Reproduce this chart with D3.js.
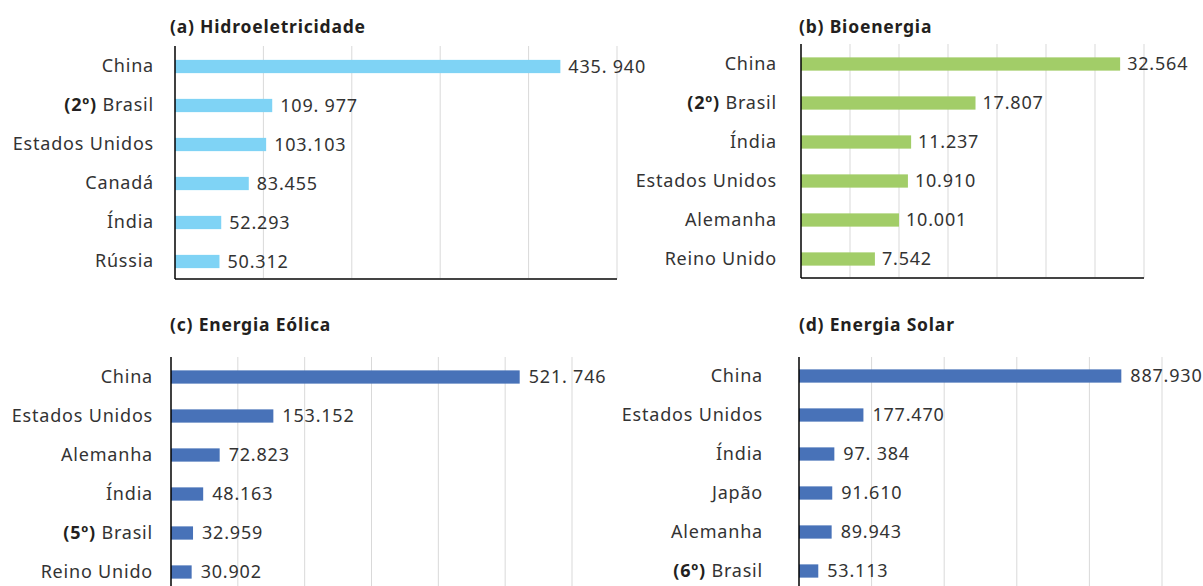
<!DOCTYPE html>
<html>
<head>
<meta charset="utf-8">
<script src="https://cdn.jsdelivr.net/npm/d3@7"></script>
<style>
  body { margin: 0; background: #fff; }
  svg text { font-family: "Noto Sans", sans-serif; }
</style>
</head>
<body>
<div id="chart"></div>
<script>
// (a) Hidroeletricidade
var hidroCountries = ["China", "Brasil", "Estados Unidos", "Canadá", "Índia", "Rússia"];
var hidroRank = ["", "(2º) ", "", "", "", ""];
var hidroValues = [435940, 109977, 103103, 83455, 52293, 50312];
var hidroLabels = ["435. 940", "109. 977", "103.103", "83.455", "52.293", "50.312"];

// (b) Bioenergia
var bioCountries = ["China", "Brasil", "Índia", "Estados Unidos", "Alemanha", "Reino Unido"];
var bioRank = ["", "(2º) ", "", "", "", ""];
var bioValues = [32564, 17807, 11237, 10910, 10001, 7542];
var bioLabels = ["32.564", "17.807", "11.237", "10.910", "10.001", "7.542"];

// (c) Energia Eólica
var eolicaCountries = ["China", "Estados Unidos", "Alemanha", "Índia", "Brasil", "Reino Unido"];
var eolicaRank = ["", "", "", "", "(5º)  ", ""];
var eolicaValues = [521746, 153152, 72823, 48163, 32959, 30902];
var eolicaLabels = ["521. 746", "153.152", "72.823", "48.163", "32.959", "30.902"];

// (d) Energia Solar
var solarCountries = ["China", "Estados Unidos", "Índia", "Japão", "Alemanha", "Brasil"];
var solarRank = ["", "", "", "", "", "(6º) "];
var solarValues = [887930, 177470, 97384, 91610, 89943, 53113];
var solarLabels = ["887.930", "177.470", "97. 384", "91.610", "89.943", "53.113"];

var width = 1203, height = 586;

var svg = d3.select("#chart")
    .append("svg")
    .attr("width", width)
    .attr("height", height);

function drawPanel(cfg) {
    var g = svg.append("g");

    var x = d3.scaleLinear()
        .domain([0, cfg.max])
        .range([cfg.x0, cfg.x1]);

    var y = d3.scaleBand()
        .domain(cfg.countries)
        .range([cfg.bandTop, cfg.bandTop + 234])
        .paddingInner(0.66)
        .paddingOuter(0.33);

    // title
    g.append("text")
        .attr("x", cfg.titleX)
        .attr("y", cfg.titleY)
        .attr("font-size", 17.5)
        .attr("font-weight", "bold")
        .attr("letter-spacing", 0.8)
        .attr("fill", "#231f20")
        .text(cfg.title);

    // gridlines
    g.selectAll(".grid")
        .data(x.ticks(cfg.nTicks).filter(function(d) { return d > 0; }))
      .enter().append("line")
        .attr("class", "grid")
        .attr("x1", function(d) { return x(d); })
        .attr("x2", function(d) { return x(d); })
        .attr("y1", cfg.top)
        .attr("y2", cfg.bottom)
        .attr("stroke", "#d9d9d9")
        .attr("stroke-width", 1);

    // bars
    g.selectAll(".bar")
        .data(cfg.values)
      .enter().append("rect")
        .attr("class", "bar")
        .attr("x", x(0))
        .attr("y", function(d, i) { return y(cfg.countries[i]); })
        .attr("width", function(d) { return x(d) - x(0); })
        .attr("height", y.bandwidth())
        .attr("fill", cfg.color);

    // value labels
    g.selectAll(".val")
        .data(cfg.values)
      .enter().append("text")
        .attr("class", "val")
        .attr("x", function(d) { return x(d) + cfg.labelGap; })
        .attr("y", function(d, i) { return y(cfg.countries[i]) + y.bandwidth() / 2; })
        .attr("dy", "0.36em")
        .attr("font-size", 18)
        .attr("letter-spacing", 0.8)
        .attr("fill", "#333")
        .text(function(d, i) { return cfg.labels[i]; });

    // bottom axis line
    if (cfg.bottomAxis) {
        g.append("line")
            .attr("x1", cfg.x0)
            .attr("x2", cfg.x1)
            .attr("y1", cfg.bottom)
            .attr("y2", cfg.bottom)
            .attr("stroke", "#444")
            .attr("stroke-width", 2);
    }

    // left axis with category labels
    var axis = g.append("g")
        .attr("transform", "translate(" + cfg.x0 + ",0)")
        .call(d3.axisLeft(y).tickSize(0).tickPadding(cfg.pad));

    axis.select(".domain").remove();
    axis.append("line")
        .attr("x1", 0).attr("x2", 0)
        .attr("y1", cfg.top)
        .attr("y2", cfg.bottom)
        .attr("stroke", "#000")
        .attr("stroke-width", 1.5);

    axis.selectAll(".tick text")
        .attr("font-size", 18)
        .attr("letter-spacing", 0.8)
        .attr("font-family", "Noto Sans, sans-serif")
        .attr("fill", "#333")
        .each(function(d, i) {
            var t = d3.select(this);
            t.text(null);
            if (cfg.rank[i]) {
                t.append("tspan").attr("font-weight", "bold").attr("fill", "#231f20").text(cfg.rank[i]);
            }
            t.append("tspan").text(d);
        });
}

drawPanel({
    title: "(a) Hidroeletricidade", titleX: 170, titleY: 33,
    countries: hidroCountries, rank: hidroRank, values: hidroValues, labels: hidroLabels,
    max: 500000, nTicks: 5, x0: 175, x1: 617, top: 46, bottom: 279, bandTop: 47,
    color: "#7fd3f5", pad: 21, labelGap: 8, bottomAxis: true
});

drawPanel({
    title: "(b) Bioenergia", titleX: 799, titleY: 33,
    countries: bioCountries, rank: bioRank, values: bioValues, labels: bioLabels,
    max: 35000, nTicks: 7, x0: 801, x1: 1144, top: 44, bottom: 278, bandTop: 44.5,
    color: "#a2cd68", pad: 24, labelGap: 7, bottomAxis: true
});

drawPanel({
    title: "(c) Energia Eólica", titleX: 170, titleY: 331,
    countries: eolicaCountries, rank: eolicaRank, values: eolicaValues, labels: eolicaLabels,
    max: 600000, nTicks: 6, x0: 171, x1: 572, top: 357, bottom: 600, bandTop: 357.5,
    color: "#4872b8", pad: 18, labelGap: 9, bottomAxis: false
});

drawPanel({
    title: "(d) Energia Solar", titleX: 799, titleY: 331,
    countries: solarCountries, rank: solarRank, values: solarValues, labels: solarLabels,
    max: 1000000, nTicks: 5, x0: 799, x1: 1162, top: 357, bottom: 600, bandTop: 356.5,
    color: "#4872b8", pad: 36, labelGap: 9, bottomAxis: false
});
</script>
</body>
</html>
